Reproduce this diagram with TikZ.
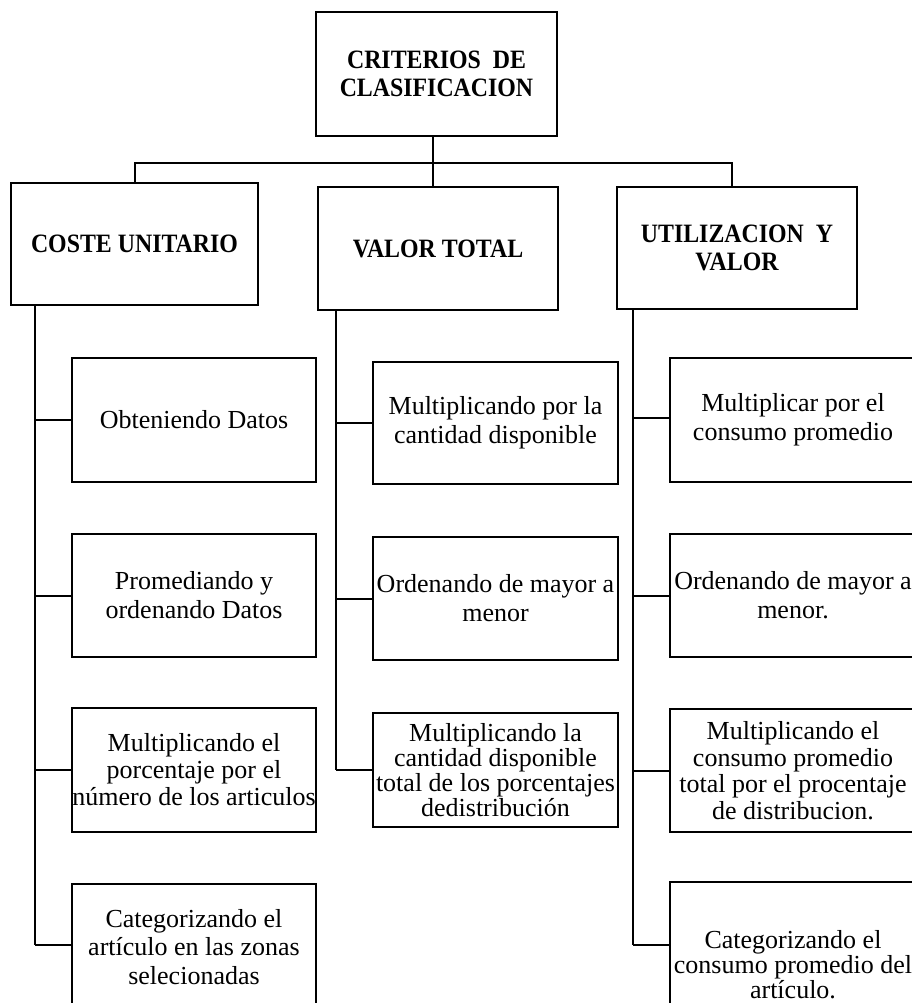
\documentclass[tikz,border=0pt]{standalone}
\usepackage{fontspec}
\setmainfont{Liberation Serif}
\newfontfamily\headfont{Liberation Serif}[FakeStretch=0.9]
\begin{document}
\begin{tikzpicture}[x=1pt,y=-1pt,
  box/.style={draw=black,line width=2pt,inner sep=0pt,align=center,font=\fontsize{26}{27}\selectfont},
  head/.style={box,font=\headfont\fontsize{26.5}{28}\selectfont\bfseries},
  conn/.style={draw=black,line width=2pt},
  trunk/.style={draw=black,line width=2.6pt}]
\useasboundingbox (0,0) rectangle (912,1003);
\clip (0,0) rectangle (912,1003);
% headers
\node[head,minimum width=241pt,minimum height=124pt] (top) at (436.5,74) {CRITERIOS~~DE\\CLASIFICACION};
\node[head,minimum width=247pt,minimum height=122pt] (C) at (134.5,244) {COSTE UNITARIO};
\node[head,minimum width=240pt,minimum height=123pt] (V) at (438,248.5) {VALOR TOTAL};
\node[head,minimum width=240pt,minimum height=122pt] (U) at (737,248) {UTILIZACION~~Y\\VALOR};
% left column
\node[box,minimum width=244pt,minimum height=124pt] (L1) at (194,420) {Obteniendo Datos};
\node[box,minimum width=244pt,minimum height=123pt,font=\fontsize{26}{29}\selectfont] (L2) at (194,595.5) {Promediando y\\ordenando Datos};
\node[box,minimum width=244pt,minimum height=124pt] (L3) at (194,770) {Multiplicando el\\porcentaje por el\\número de los articulos};
\node[box,minimum width=244pt,minimum height=126pt,font=\fontsize{26}{28.5}\selectfont] (L4) at (194,947) {Categorizando el\\artículo en las zonas\\selecionadas};
% middle column
\node[box,minimum width=245pt,minimum height=122pt,font=\fontsize{26}{29}\selectfont] (M1) at (495.5,423) {Multiplicando por la\\cantidad disponible};
\node[box,minimum width=245pt,minimum height=123pt,font=\fontsize{26}{29}\selectfont] (M2) at (495.5,598.5) {Ordenando de mayor a\\menor};
\node[box,minimum width=245pt,minimum height=114pt,font=\fontsize{26}{25}\selectfont] (M3) at (495.5,770) {Multiplicando la\\cantidad disponible\\total de los porcentajes\\dedistribución};
% right column
\node[box,minimum width=246pt,minimum height=124pt,font=\fontsize{26}{29}\selectfont] (R1) at (793,420) {Multiplicar por el\\consumo promedio};
\node[box,minimum width=246pt,minimum height=123pt,font=\fontsize{26}{29}\selectfont] (R2) at (793,595.5) {Ordenando de mayor a\\menor.};
\node[box,minimum width=246pt,minimum height=123pt,font=\fontsize{26}{26.5}\selectfont] (R3) at (793,770.5) {Multiplicando el\\consumo promedio\\total por el procentaje\\de distribucion.};
\node[box,minimum width=246pt,minimum height=166pt,font=\fontsize{26}{25}\selectfont] (R4) at (793,965) {Categorizando el\\consumo promedio del\\artículo.};
% bus
\coordinate (bus) at (0,163);
\coordinate (tC) at (35,0);
\coordinate (tV) at (336,0);
\coordinate (tU) at (633,0);
\draw[conn] ([xshift=-3.5pt]top.south) -- ([xshift=-3.5pt]top.south |- bus);
\draw[conn] (C.north) -- (C.north |- bus) -- ([xshift=-5pt]U.north |- bus) -- ([xshift=-5pt]U.north);
\draw[conn] ([xshift=-5pt]V.north |- bus) -- ([xshift=-5pt]V.north);
% trunks
\draw[trunk] (C.south -| tC) -- ([yshift=2pt]L4.west -| tC);
\draw[trunk] (V.south -| tV) -- (M3.west -| tV);
\draw[trunk] ([yshift=2pt]U.south -| tU) -- ([yshift=20pt]R4.west -| tU);
% branches
\draw[conn] (L1.west) -- (L1.west -| tC);
\draw[conn] (L2.west) -- (L2.west -| tC);
\draw[conn] (L3.west) -- (L3.west -| tC);
\draw[conn] ([yshift=2pt]L4.west) -- ([yshift=2pt]L4.west -| tC);
\draw[conn] (M1.west) -- (M1.west -| tV);
\draw[conn] (M2.west) -- (M2.west -| tV);
\draw[conn] (M3.west) -- (M3.west -| tV);
\draw[conn] ([yshift=2pt]R1.west) -- ([yshift=2pt]R1.west -| tU);
\draw[conn] (R2.west) -- (R2.west -| tU);
\draw[conn] (R3.west) -- (R3.west -| tU);
\draw[conn] ([yshift=20pt]R4.west) -- ([yshift=20pt]R4.west -| tU);
\end{tikzpicture}
\end{document}
